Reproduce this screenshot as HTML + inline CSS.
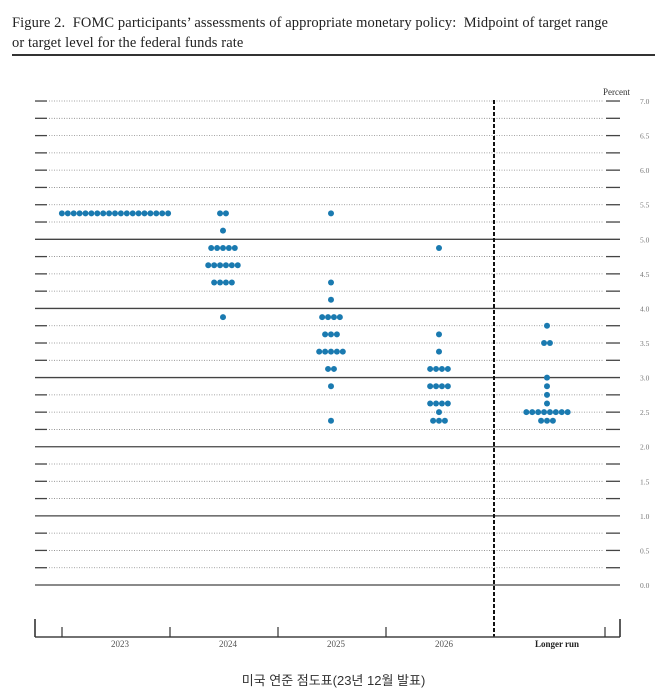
<!DOCTYPE html>
<html><head><meta charset="utf-8"><style>
body{margin:0;background:#fff;width:667px;height:700px;overflow:hidden;position:relative;font-family:"Liberation Serif",serif}
.title{position:absolute;left:12px;top:13px;font-size:14.5px;line-height:20px;color:#222;letter-spacing:0.1px}
.rule{position:absolute;left:12px;top:54px;width:643px;height:2px;background:#333}
.cap{position:absolute;left:0;width:667px;top:670px;text-align:center;font-family:"Liberation Sans","Noto Sans CJK KR",sans-serif;font-size:13px;color:#333}
</style></head><body>
<div class="title">Figure 2.&nbsp; FOMC participants’ assessments of appropriate monetary policy:&nbsp; Midpoint of target range<br>or target level for the federal funds rate</div>
<div class="rule"></div>
<svg id="chart" width="667" height="700" style="position:absolute;left:0;top:0"></svg>
<div class="cap">미국 연준 점도표(23년 12월 발표)</div>
<script>
const categories=["2023","2024","2025","2026","Longer run"];
const rates2023=[[5.375,19]];
const rates2024=[[5.375,2],[5.125,1],[4.875,5],[4.625,6],[4.375,4],[3.875,1]];
const rates2025=[[5.375,1],[4.375,1],[4.125,1],[3.875,4],[3.625,3],[3.375,5],[3.125,2],[2.875,1],[2.375,1]];
const rates2026=[[4.875,1],[3.625,1],[3.375,1],[3.125,4],[2.875,4],[2.625,4],[2.5,1],[2.375,3]];
const ratesLong=[[3.75,1],[3.5,2],[3.0,1],[2.875,1],[2.75,1],[2.625,1],[2.5,8],[2.375,3]];
const tickLabels=["0.0","0.5","1.0","1.5","2.0","2.5","3.0","3.5","4.0","4.5","5.0","5.5","6.0","6.5","7.0"];
const NS="http://www.w3.org/2000/svg";
const svg=document.getElementById('chart');
const y=v=>585-v*69.14;
const colX=i=>115+i*108;
function mk(t,a){const e=document.createElementNS(NS,t);for(const k in a)e.setAttribute(k,a[k]);svg.appendChild(e);return e;}
for(let k=0;k<=28;k++){
  const v=k*0.25,yy=y(v);
  if(k%4===0 && v<=5){
    const l=mk('line',{x1:35,x2:620,y1:yy,y2:yy,stroke:'#444','stroke-width':1.3});
    
    
  }else{
    const a=mk('line',{x1:35,x2:47,y1:yy,y2:yy,stroke:'#444','stroke-width':1.3});
    
    
    const d=mk('line',{x1:49,x2:604,y1:yy,y2:yy,stroke:'#888','stroke-width':0.8,'stroke-dasharray':'1 1.5'});
    
    
    const b=mk('line',{x1:606,x2:620,y1:yy,y2:yy,stroke:'#444','stroke-width':1.3});
    
    
  }
}
tickLabels.forEach((t,i)=>{
  const tx=mk('text',{x:640,y:y(parseFloat(t))+3,'font-size':7.5,fill:'#777','font-family':'Liberation Serif'});
  tx.textContent=t;
  
  
});
const pc=mk('text',{x:603,y:95,'font-size':9,fill:'#333','font-family':'Liberation Serif'});
pc.textContent='Percent';


const vd=mk('line',{x1:494,x2:494,y1:100,y2:637,stroke:'#111','stroke-width':2,'stroke-dasharray':'4 2'});


const ax=mk('line',{x1:35,x2:620,y1:637,y2:637,stroke:'#444','stroke-width':1.5});


[[35,619],[620,619],[62,627],[170,627],[278,627],[386,627],[605,627]].forEach(p=>{
  const t=mk('line',{x1:p[0],x2:p[0],y1:p[1],y2:637,stroke:'#333','stroke-width':p[1]===619?1.6:1.2});
  
  
});
categories.forEach((c,i)=>{
  const t=mk('text',{x:i===4?557:colX(i)+5,y:647,'text-anchor':'middle','font-size':9,fill:i===4?'#222':'#555','font-family':'Liberation Serif','font-weight':i===4?'bold':'normal'});
  t.textContent=c;
  
  
});
[rates2023,rates2024,rates2025,rates2026,ratesLong].forEach((ser,i)=>{
  ser.forEach(([v,n])=>{
    for(let j=0;j<n;j++){
      const cx=colX(i)+(j-(n-1)/2)*5.9;
      const c=mk('circle',{cx:cx,cy:y(v),r:3,fill:'#1a7ab0'});
      
      
    }
  });
});
</script>
</body></html>
